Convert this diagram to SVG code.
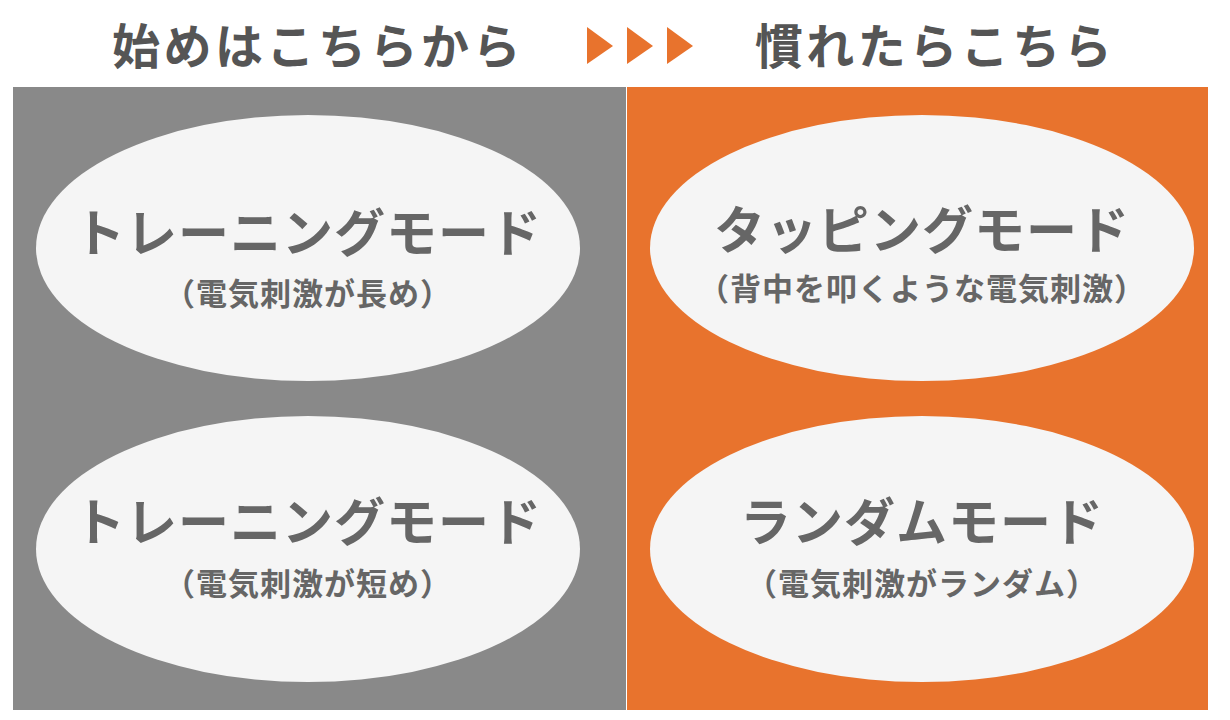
<svg xmlns="http://www.w3.org/2000/svg" width="1230" height="720" viewBox="0 0 1230 720">
<style>
.hdr{font-family:"Noto Sans CJK JP","Noto Sans",sans-serif;font-weight:700;font-size:48px;fill:#555555;letter-spacing:3.5px;text-anchor:middle}
.ttl{font-family:"Noto Sans CJK JP","Noto Sans",sans-serif;font-weight:700;font-size:51px;fill:#666666;letter-spacing:1px;text-anchor:middle}
.sub{font-family:"Noto Sans CJK JP","Noto Sans",sans-serif;font-weight:700;font-size:31px;fill:#666666;letter-spacing:1px;text-anchor:middle}
.ell{fill:#F5F5F5}
.tri{fill:#E8732D}
</style>
<rect width="1230" height="720" fill="#FFFFFF"/>
<g id="header">
<text class="hdr" x="318" y="64">始めはこちらから</text>
<polygon class="tri" points="587,27 613,46 587,64"/>
<polygon class="tri" points="627,27 653,46 627,64"/>
<polygon class="tri" points="667,27 693,46 667,64"/>
<text class="hdr" x="935" y="64">慣れたらこちら</text>
</g>
<g id="panel-left"><rect x="13" y="87" width="613" height="623" fill="#898989"/></g>
<g id="panel-right"><rect x="627" y="87" width="581" height="623" fill="#E8732D"/></g>
<g id="node-training-long">
<ellipse class="ell" cx="308" cy="248" rx="272" ry="133"/>
<text class="ttl" x="308" y="252">トレーニングモード</text>
<text class="sub" x="308" y="305">（電気刺激が長め）</text>
</g>
<g id="node-training-short">
<ellipse class="ell" cx="308" cy="549" rx="272" ry="133"/>
<text class="ttl" x="308" y="541">トレーニングモード</text>
<text class="sub" x="308" y="595">（電気刺激が短め）</text>
</g>
<g id="node-tapping">
<ellipse class="ell" cx="922" cy="248" rx="272" ry="133"/>
<text class="ttl" x="922" y="249">タッピングモード</text>
<text class="sub" x="922" y="300">（背中を叩くような電気刺激）</text>
</g>
<g id="node-random">
<ellipse class="ell" cx="922" cy="549" rx="272" ry="133"/>
<text class="ttl" x="922" y="541">ランダムモード</text>
<text class="sub" x="922" y="595">（電気刺激がランダム）</text>
</g>
<g id="connectors"/>
</svg>
